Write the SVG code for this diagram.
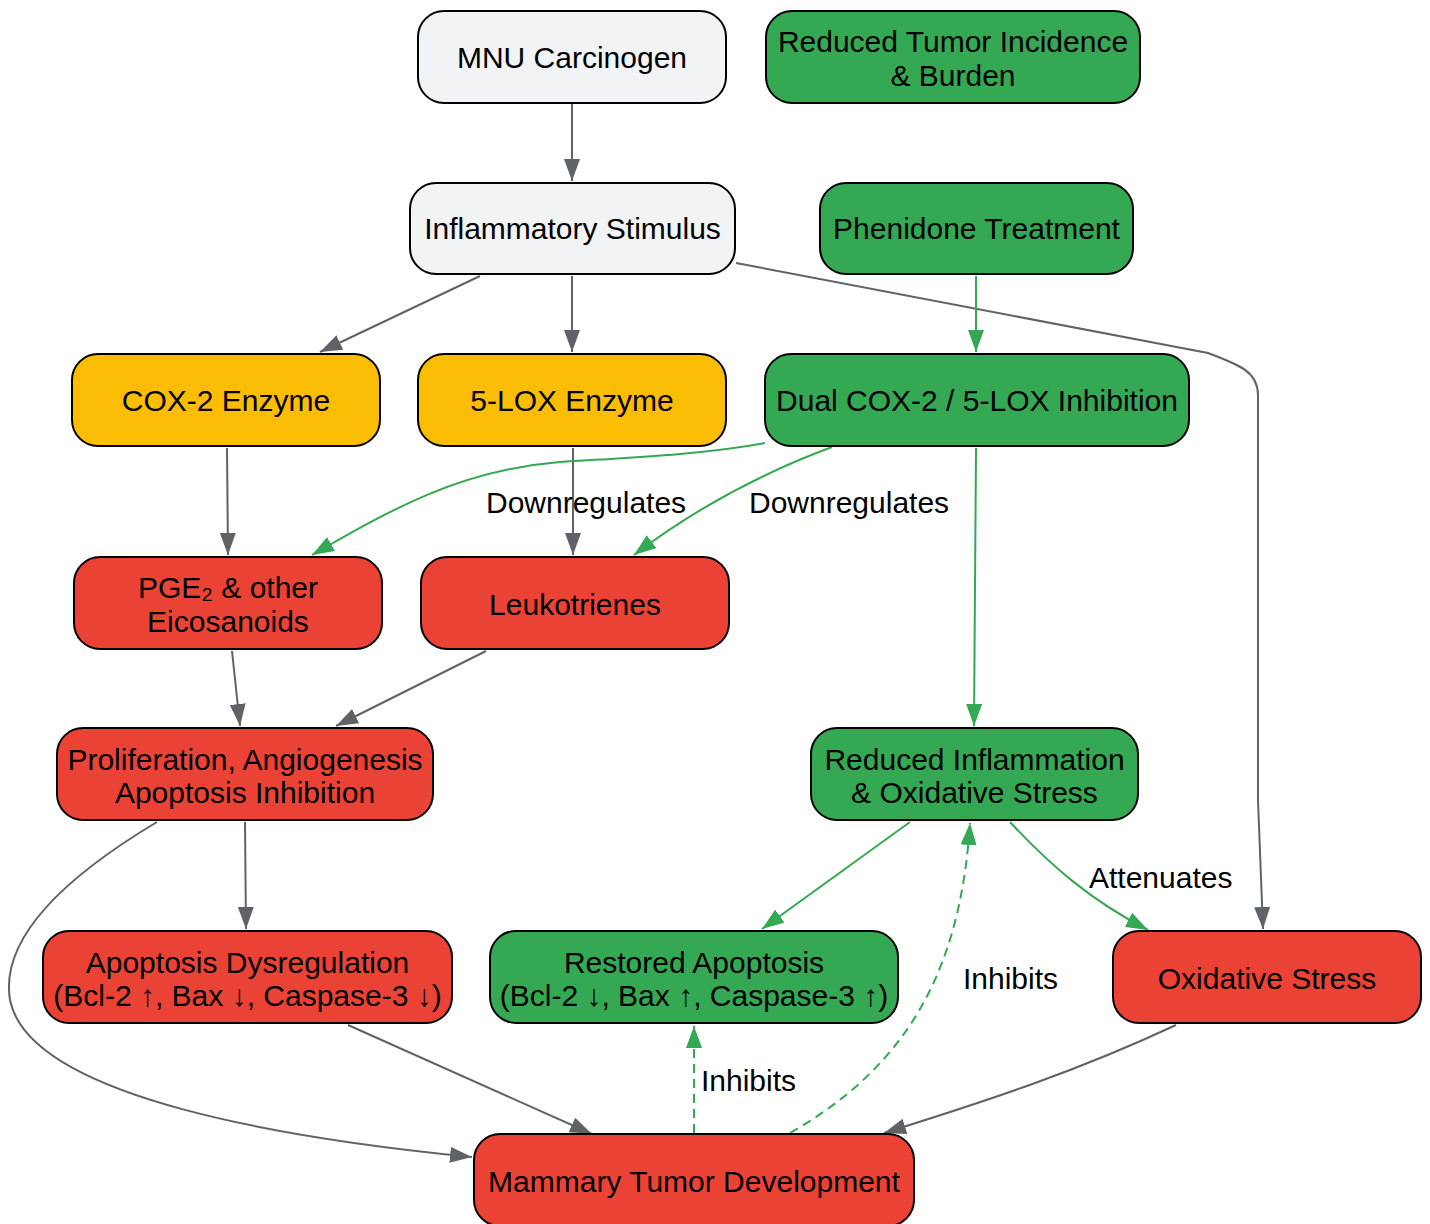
<svg xmlns="http://www.w3.org/2000/svg" width="1430" height="1224" viewBox="0 0 1430 1224">
<style>
.n rect{stroke:#000;stroke-width:2}
.gray rect{fill:#f1f3f4}
.green rect{fill:#34a853}
.yellow rect{fill:#fbbc04}
.red rect{fill:#ea4335}
text{font-family:"Liberation Sans",Arial,sans-serif;font-size:30px;fill:#000;text-anchor:middle;dominant-baseline:central}
.e path{fill:none;stroke-width:2}
.eg{stroke:#5f6368}
.eG{stroke:#34a853}
.d{stroke-dasharray:9,6}
.lbl text{text-anchor:start}
</style>
<defs>
<marker id="ag" viewBox="0 0 22 16" refX="22" refY="8" markerWidth="22" markerHeight="16" markerUnits="userSpaceOnUse" orient="auto"><path d="M0,0 L22,8 L0,16 z" fill="#5f6368"/></marker>
<marker id="aG" viewBox="0 0 22 16" refX="22" refY="8" markerWidth="22" markerHeight="16" markerUnits="userSpaceOnUse" orient="auto"><path d="M0,0 L22,8 L0,16 z" fill="#34a853"/></marker>
</defs>
<g class="e" id="connectors">
<path class="eg" d="M572,103 L572,181" marker-end="url(#ag)"/>
<path class="eg" d="M480,276 L320,352" marker-end="url(#ag)"/>
<path class="eg" d="M572,276 L572,352" marker-end="url(#ag)"/>
<path class="eg" d="M736,263 L1208,353 C1240,365 1258,372 1258,395 L1258,800 L1263,929" marker-end="url(#ag)"/>
<path class="eG" d="M976,276 L976,352" marker-end="url(#aG)"/>
<path class="eg" d="M227,448 L228,555" marker-end="url(#ag)"/>
<path class="eg" d="M573,448 L573,555" marker-end="url(#ag)"/>
<path class="eG" d="M765,443 C700,455 620,458 560,462 C460,470 390,510 312,555" marker-end="url(#aG)"/>
<path class="eG" d="M832,447 C770,470 700,505 634,555" marker-end="url(#aG)"/>
<path class="eG" d="M976,448 L974,726" marker-end="url(#aG)"/>
<path class="eg" d="M232,651 L240,726" marker-end="url(#ag)"/>
<path class="eg" d="M486,651 L336,726" marker-end="url(#ag)"/>
<path class="eg" d="M245,822 L246,929" marker-end="url(#ag)"/>
<path class="eg" d="M157,822 C60,880 0,940 10,1000 C30,1100 300,1140 472,1157" marker-end="url(#ag)"/>
<path class="eg" d="M348,1025 L592,1134" marker-end="url(#ag)"/>
<path class="eG" d="M910,822 L762,929" marker-end="url(#aG)"/>
<path class="eG" d="M1010,822 C1050,865 1090,900 1148,930" marker-end="url(#aG)"/>
<path class="eG d" d="M694,1133 L694,1026" marker-end="url(#aG)"/>
<path class="eG d" d="M790,1133 C900,1070 960,980 970,823" marker-end="url(#aG)"/>
<path class="eg" d="M1176,1025 C1080,1070 990,1100 884,1133" marker-end="url(#ag)"/>
</g>
<g class="lbl" id="edge-labels">
<text x="486" y="502">Downregulates</text>
<text x="749" y="502">Downregulates</text>
<text x="1089" y="877">Attenuates</text>
<text x="701" y="1080">Inhibits</text>
<text x="963" y="978">Inhibits</text>
</g>
<g class="n gray" id="mnu"><rect x="418" y="11" width="308" height="92" rx="26"/><text x="572" y="57">MNU Carcinogen</text></g>
<g class="n green" id="reduced-tumor"><rect x="766" y="11" width="374" height="92" rx="26"/><text x="953" y="41">Reduced Tumor Incidence</text><text x="953" y="75">&amp; Burden</text></g>
<g class="n gray" id="inflammatory"><rect x="410" y="183" width="325" height="91" rx="26"/><text x="572.5" y="228">Inflammatory Stimulus</text></g>
<g class="n green" id="phenidone"><rect x="820" y="183" width="313" height="91" rx="26"/><text x="976.5" y="228">Phenidone Treatment</text></g>
<g class="n yellow" id="cox2"><rect x="72" y="354" width="308" height="92" rx="26"/><text x="226" y="400">COX-2 Enzyme</text></g>
<g class="n yellow" id="lox5"><rect x="418" y="354" width="308" height="92" rx="26"/><text x="572" y="400">5-LOX Enzyme</text></g>
<g class="n green" id="dual"><rect x="765" y="354" width="424" height="92" rx="26"/><text x="977" y="400">Dual COX-2 / 5-LOX Inhibition</text></g>
<g class="n red" id="pge2"><rect x="74" y="557" width="308" height="92" rx="26"/><text x="228" y="587">PGE₂ &amp; other</text><text x="228" y="621">Eicosanoids</text></g>
<g class="n red" id="leuko"><rect x="421" y="557" width="308" height="92" rx="26"/><text x="575" y="604">Leukotrienes</text></g>
<g class="n red" id="prolif"><rect x="57" y="728" width="376" height="92" rx="26"/><text x="245" y="759">Proliferation, Angiogenesis</text><text x="245" y="792">Apoptosis Inhibition</text></g>
<g class="n green" id="reduced-infl"><rect x="811" y="728" width="327" height="92" rx="26"/><text x="974.5" y="759">Reduced Inflammation</text><text x="974.5" y="792">&amp; Oxidative Stress</text></g>
<g class="n red" id="apop-dys"><rect x="43" y="931" width="409" height="92" rx="26"/><text x="247.5" y="962">Apoptosis Dysregulation</text><text x="247.5" y="995">(Bcl-2 ↑, Bax ↓, Caspase-3 ↓)</text></g>
<g class="n green" id="restored"><rect x="490" y="931" width="408" height="92" rx="26"/><text x="694" y="962">Restored Apoptosis</text><text x="694" y="995">(Bcl-2 ↓, Bax ↑, Caspase-3 ↑)</text></g>
<g class="n red" id="oxidative"><rect x="1113" y="931" width="308" height="92" rx="26"/><text x="1267" y="978">Oxidative Stress</text></g>
<g class="n red" id="mammary"><rect x="474" y="1134" width="440" height="92" rx="26"/><text x="694" y="1181">Mammary Tumor Development</text></g>
</svg>
